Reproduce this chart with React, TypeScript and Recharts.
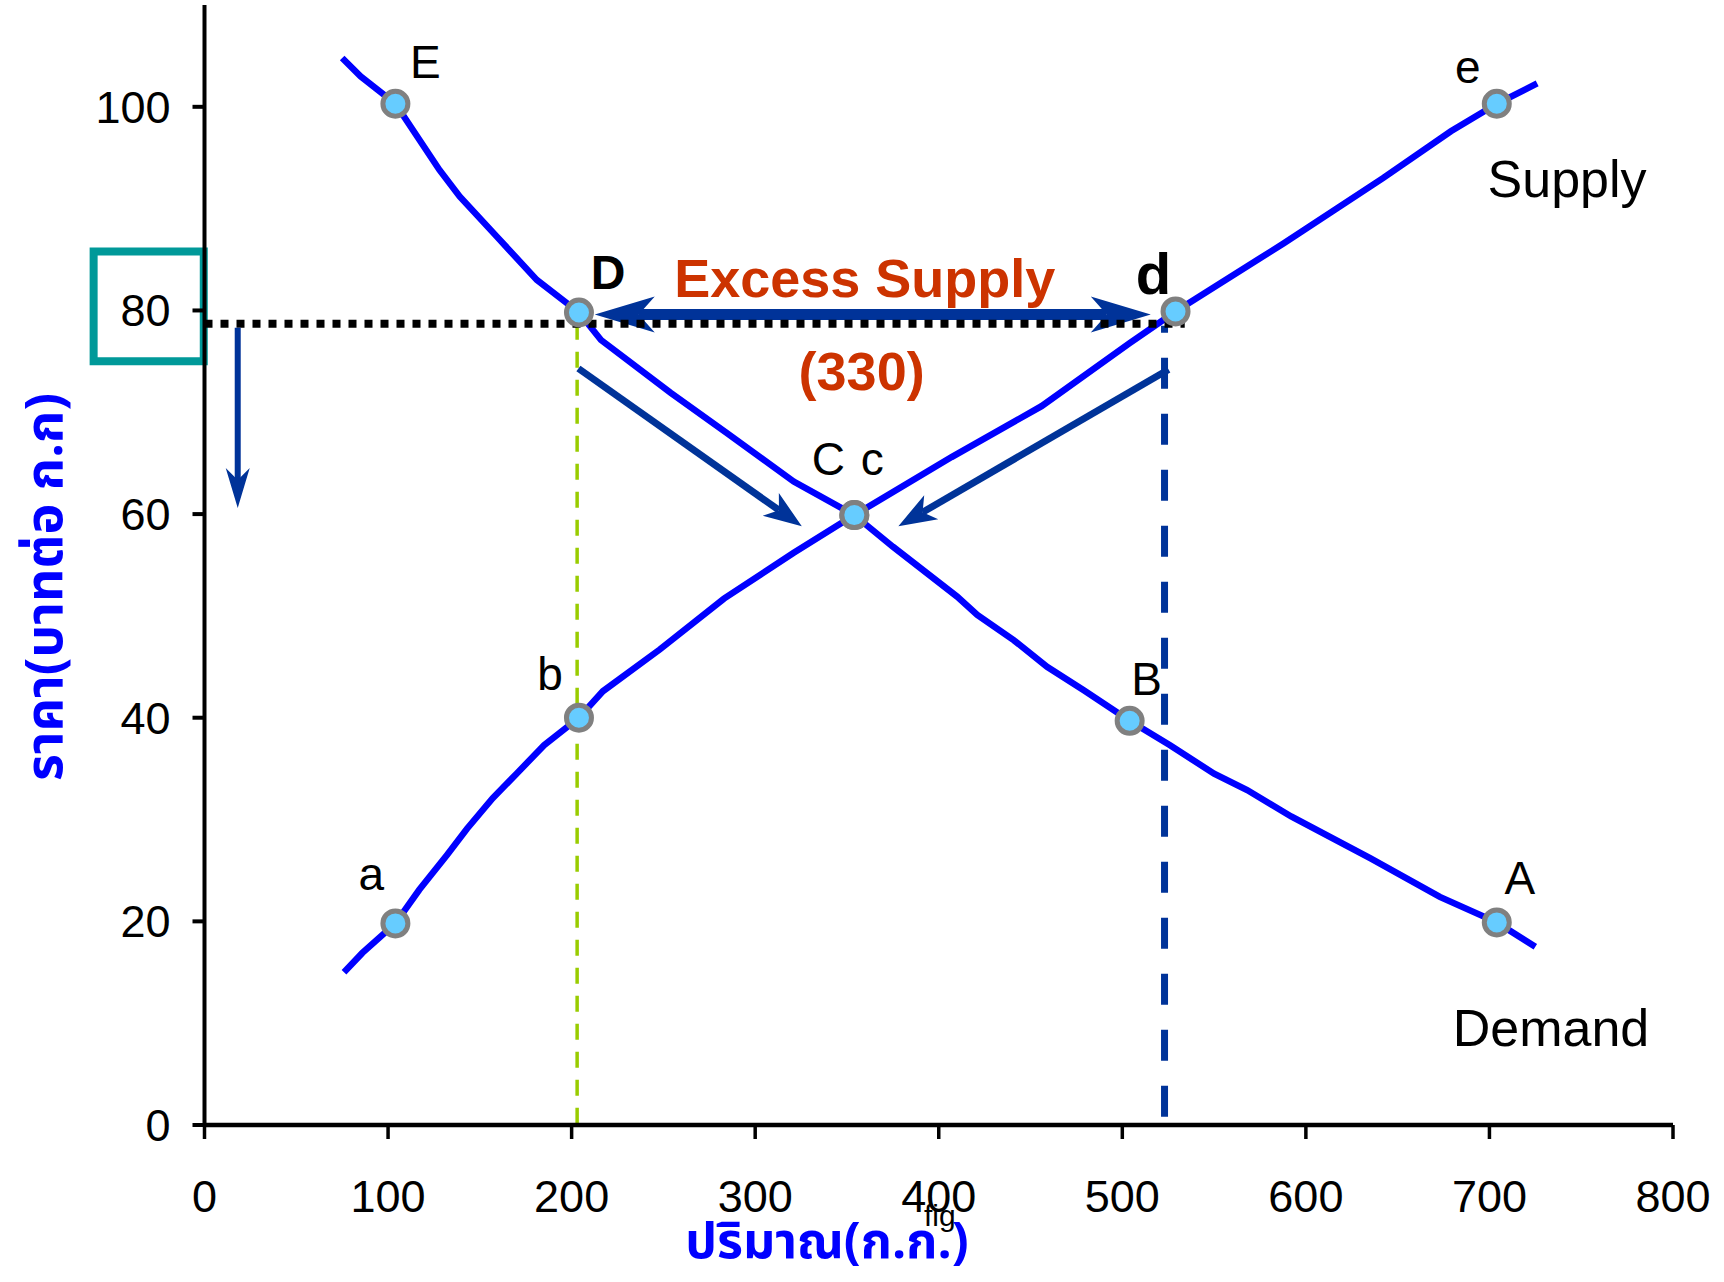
import {
  ComposedChart,
  Line,
  Scatter,
  XAxis,
  YAxis,
  ReferenceLine,
  ReferenceArea,
  ReferenceDot,
} from 'recharts'

// traced demand curve (quantity, price)
const demandCurveQty = [75, 85, 104, 128, 139, 159, 181, 204, 216, 254, 285, 321, 354, 375, 410, 421, 441, 459, 479, 504, 526, 550, 568, 592, 635, 673, 704, 725]
const demandCurvePrice = [104.8, 103, 100.3, 93.8, 91.2, 87.3, 83, 79.8, 77.1, 71.9, 67.9, 63.2, 59.9, 56.8, 51.9, 50.1, 47.6, 45, 42.7, 39.7, 37.3, 34.5, 32.9, 30.3, 26.2, 22.4, 19.9, 17.5]

// traced supply curve
const supplyCurveQty = [76, 86, 104, 117, 132, 143, 157, 170, 185, 204, 217, 248, 283, 321, 354, 407, 456, 504, 529, 588, 642, 679, 704, 726]
const supplyCurvePrice = [15, 16.9, 19.8, 23.1, 26.5, 29.1, 32.1, 34.5, 37.3, 40, 42.6, 46.7, 51.7, 56.2, 59.9, 65.6, 70.6, 76.8, 79.9, 86.6, 93, 97.6, 100.3, 102.3]

// marked points
const demandQty = [104, 204, 354, 504, 704]
const demandPrice = [100.3, 79.8, 59.9, 39.7, 19.9]
const demandLabels = ['E', 'D', 'C', 'B', 'A']

const supplyQty = [104, 204, 354, 529, 704]
const supplyPrice = [19.8, 40, 59.9, 79.9, 100.3]
const supplyLabels = ['a', 'b', 'c', 'd', 'e']

const xTicks = [0, 100, 200, 300, 400, 500, 600, 700, 800]
const yTicks = [0, 20, 40, 60, 80, 100]

const demandCurve = demandCurveQty.map((q, i) => ({ q, p: demandCurvePrice[i] }))
const supplyCurve = supplyCurveQty.map((q, i) => ({ q, p: supplyCurvePrice[i] }))
const demandPts = demandQty.map((q, i) => ({ q, p: demandPrice[i], label: demandLabels[i] }))
const supplyPts = supplyQty.map((q, i) => ({ q, p: supplyPrice[i], label: supplyLabels[i] }))

const FONT = 'Liberation Sans, Arial, sans-serif'
const THAI = '"Noto Sans Thai", "Noto Looped Thai", Loma, Garuda, Norasi, "Tlwg Typo", sans-serif'
const ARROW = '#003399'

// label offset from marker centre (dx, dy to baseline)
const labelOffset: Record<string, [number, number]> = {
  E: [30, -26], D: [29, -23], C: [-26, -40], B: [17, -26], A: [23, -28],
  a: [-24, -33], b: [-29, -28], c: [18, -40], d: [-22, -17], e: [-29, -21],
}

const Marker = (p: any) => {
  const lab = p.payload.label
  const [dx, dy] = labelOffset[lab]
  const bold = lab === 'D' || lab === 'd'
  return (
    <g>
      <circle cx={p.cx} cy={p.cy} r={12.5} fill="#66CCFF" stroke="#808080" strokeWidth={5} />
      <text
        x={p.cx + dx}
        y={p.cy + dy}
        textAnchor="middle"
        fontFamily={FONT}
        fontSize={lab === 'd' ? 58 : bold ? 48 : 46}
        fontWeight={bold ? 'bold' : 'normal'}
        fill="#000"
      >
        {lab}
      </text>
    </g>
  )
}

const head = (tx: number, ty: number, ux: number, uy: number, len: number, half: number, notch: number) => {
  const bx = tx - ux * len
  const by = ty - uy * len
  const nx = -uy
  const ny = ux
  const nxp = tx - ux * (len - notch)
  const nyp = ty - uy * (len - notch)
  return `${tx},${ty} ${bx + nx * half},${by + ny * half} ${nxp},${nyp} ${bx - nx * half},${by - ny * half}`
}

const arrow =
  (width: number, len: number, half: number, notch: number, both = false) =>
  (p: any) => {
    const { x1, y1, x2, y2 } = p
    const dist = Math.hypot(x2 - x1, y2 - y1)
    const ux = (x2 - x1) / dist
    const uy = (y2 - y1) / dist
    const back = len - notch
    const sx = both ? x1 + ux * back : x1
    const sy = both ? y1 + uy * back : y1
    return (
      <g>
        <line x1={sx} y1={sy} x2={x2 - ux * back} y2={y2 - uy * back} stroke={ARROW} strokeWidth={width} />
        <polygon points={head(x2, y2, ux, uy, len, half, notch)} fill={ARROW} />
        {both && <polygon points={head(x1, y1, -ux, -uy, len, half, notch)} fill={ARROW} />}
      </g>
    )
  }

const note =
  (txt: string, size: number, color: string, bold: boolean, anchor: 'start' | 'middle' = 'start') =>
  (p: any) => (
    <text x={p.cx} y={p.cy} fontFamily={FONT} fontSize={size} fill={color} fontWeight={bold ? 'bold' : 'normal'} textAnchor={anchor}>
      {txt}
    </text>
  )

export default function App() {
  return (
    <div style={{ position: 'absolute', left: 0, top: 0 }}>
      <ComposedChart width={1720} height={1280} margin={{ top: 5, right: 47, bottom: 0, left: 0 }}>
        <XAxis
          type="number"
          dataKey="q"
          domain={[0, 800]}
          ticks={xTicks}
          allowDataOverflow
          height={155}
          tickSize={14}
          tickMargin={41}
          axisLine={{ stroke: '#000', strokeWidth: 4.5 }}
          tickLine={{ stroke: '#000', strokeWidth: 3.5 }}
          tick={{ fill: '#000', fontSize: 45, fontFamily: FONT }}
          label={{
            content: () => (
              <text x={827} y={1258} textAnchor="middle" fontFamily={THAI} fontSize={50} fontWeight="bold" fill="#0000FF">
                ปริมาณ(ก.ก.)
              </text>
            ),
          }}
        />
        <YAxis
          type="number"
          dataKey="p"
          domain={[0, 110]}
          ticks={yTicks}
          allowDataOverflow
          width={204.5}
          tickSize={12}
          tickMargin={22}
          axisLine={{ stroke: '#000', strokeWidth: 4 }}
          tickLine={{ stroke: '#000', strokeWidth: 4 }}
          tick={{ fill: '#000', fontSize: 45, fontFamily: FONT }}
          label={{
            content: () => (
              <text
                x={62}
                y={587}
                transform="rotate(-90 62 587)"
                textAnchor="middle"
                fontFamily={THAI}
                fontSize={52}
                fontWeight="bold"
                fill="#0000FF"
              >
                ราคา(บาทต่อ ก.ก)
              </text>
            ),
          }}
        />

        <ReferenceLine
          segment={[{ x: 203, y: 78.7 }, { x: 203, y: 0 }]}
          stroke="#99CC00"
          strokeWidth={3.5}
          strokeDasharray="16 12"
        />
        <ReferenceLine
          segment={[{ x: 523, y: 0.8 }, { x: 523, y: 78.5 }]}
          stroke={ARROW}
          strokeWidth={7}
          strokeDasharray="31 25"
        />

        <Line data={demandCurve} dataKey="p" type="linear" stroke="#0000FF" strokeWidth={6.5} dot={false} activeDot={false} isAnimationActive={false} />
        <Line data={supplyCurve} dataKey="p" type="linear" stroke="#0000FF" strokeWidth={6.5} dot={false} activeDot={false} isAnimationActive={false} />

        <ReferenceLine
          segment={[{ x: 212.6, y: 79.6 }, { x: 515.5, y: 79.6 }]}
          shape={arrow(11, 60, 18, 16, true)}
        />
        <ReferenceLine
          segment={[{ x: 0, y: 78.7 }, { x: 534, y: 78.7 }]}
          stroke="#000"
          strokeWidth={8}
          strokeDasharray="8 8"
        />
        <ReferenceLine segment={[{ x: 18.1, y: 78.3 }, { x: 18.1, y: 60.6 }]} shape={arrow(6, 40, 12, 12)} />
        <ReferenceLine segment={[{ x: 203.7, y: 74.3 }, { x: 325.4, y: 58.8 }]} shape={arrow(7, 38, 14, 10)} />
        <ReferenceLine segment={[{ x: 525.2, y: 74.2 }, { x: 378, y: 58.8 }]} shape={arrow(7, 38, 14, 10)} />

        <ReferenceArea
          x1={-60.4}
          x2={-0.4}
          y1={75}
          y2={85.8}
          fill="none"
          fillOpacity={0}
          stroke="#009999"
          strokeWidth={8}
          ifOverflow="visible"
        />

        <Scatter data={demandPts} dataKey="p" shape={Marker} isAnimationActive={false} />
        <Scatter data={supplyPts} dataKey="p" shape={Marker} isAnimationActive={false} />

        <ReferenceDot x={359.7} y={81.3} r={0} shape={note('Excess Supply', 54, '#CC3300', true, 'middle')} />
        <ReferenceDot x={358} y={72.2} r={0} shape={note('(330)', 54, '#CC3300', true, 'middle')} />
        <ReferenceDot x={699} y={91.1} r={0} shape={note('Supply', 52, '#000', false)} />
        <ReferenceDot x={680} y={7.8} r={0} shape={note('Demand', 52, '#000', false)} />
        <ReferenceDot x={400.6} y={-9.9} r={0} ifOverflow="visible" shape={note('fig', 30, '#000', false, 'middle')} />
      </ComposedChart>
    </div>
  )
}
